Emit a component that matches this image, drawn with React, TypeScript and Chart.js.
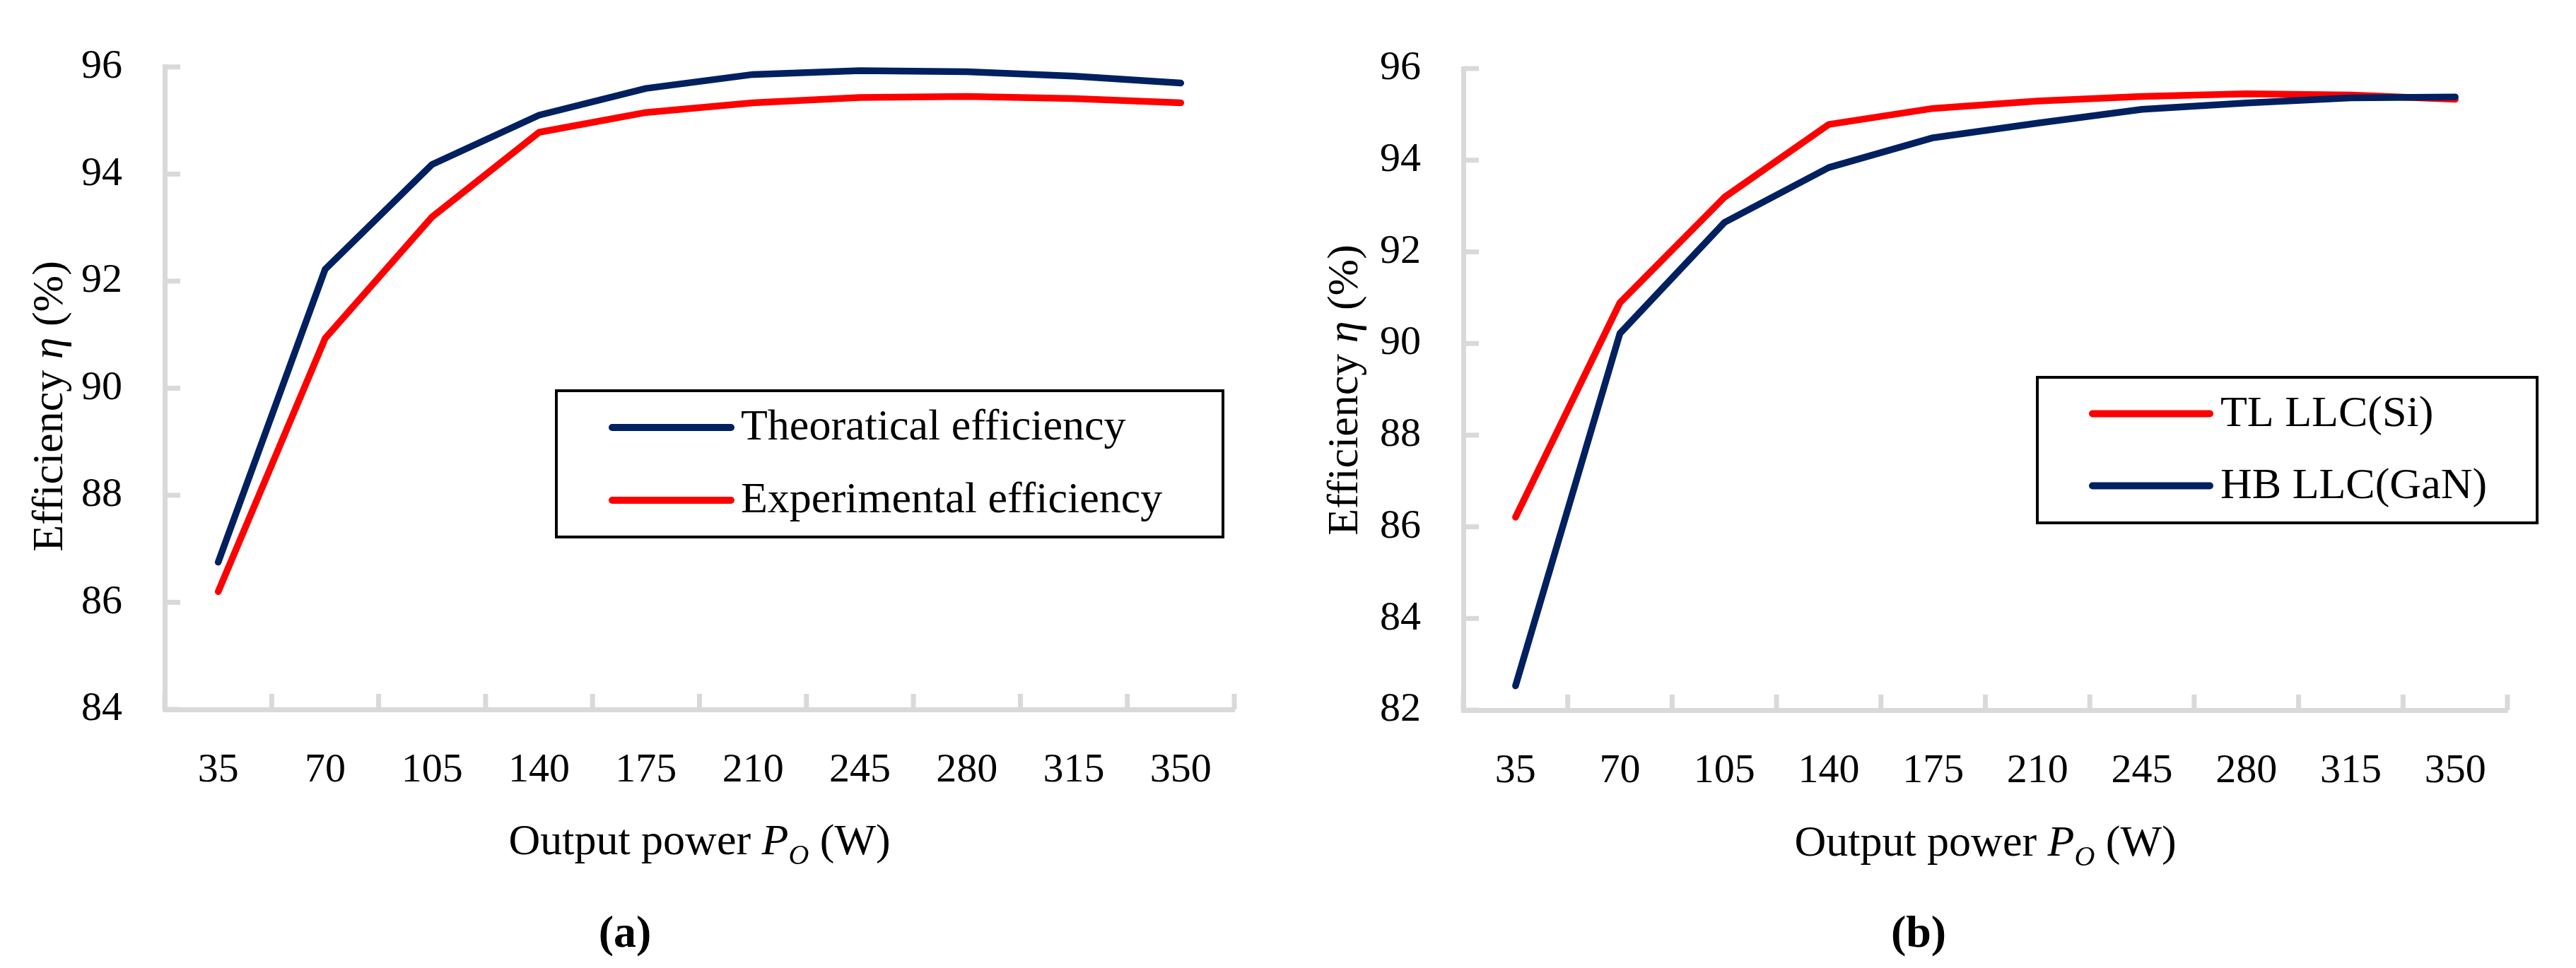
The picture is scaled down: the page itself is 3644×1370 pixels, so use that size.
import { useEffect, useRef } from 'react';
import { Chart, registerables } from 'chart.js';

Chart.register(...registerables);

// Output power (W) on the category axis
const powerLabels = ['35', '70', '105', '140', '175', '210', '245', '280', '315', '350'];

// (a) theoretical vs experimental efficiency (%)
const theoreticalEff = [86.75, 92.22, 94.18, 95.1, 95.6, 95.86, 95.93, 95.91, 95.83, 95.7];
const experimentalEff = [86.2, 90.93, 93.2, 94.78, 95.15, 95.33, 95.43, 95.45, 95.41, 95.33];

// (b) TL LLC (Si) vs HB LLC (GaN) efficiency (%)
const tlSiEff = [86.21, 90.89, 93.19, 94.78, 95.13, 95.29, 95.39, 95.45, 95.42, 95.33];
const hbGanEff = [82.53, 90.22, 92.64, 93.84, 94.49, 94.81, 95.11, 95.25, 95.36, 95.38];

const NAVY = '#002060';
const RED = '#FF0000';
const AXIS = '#D9D9D9';
const SERIF = '"Palatino Linotype", "Book Antiqua", Palatino, "Liberation Serif", serif';

type Run = { text: string; italic?: boolean; sub?: boolean; bold?: boolean };

function runFont(r: Run, size: number) {
  const s = r.sub ? Math.round(size * 0.65) : size;
  return `${r.italic ? 'italic ' : ''}${r.bold ? 'bold ' : ''}${s}px ${SERIF}`;
}

// draws mixed-style text centred on cx with its baseline on y
function drawRuns(ctx: CanvasRenderingContext2D, runs: Run[], size: number, cx: number, y: number) {
  const widths = runs.map((r) => {
    ctx.font = runFont(r, size);
    return ctx.measureText(r.text).width;
  });
  let x = cx - widths.reduce((a, b) => a + b, 0) / 2;
  ctx.textAlign = 'left';
  ctx.textBaseline = 'alphabetic';
  runs.forEach((r, i) => {
    ctx.font = runFont(r, size);
    ctx.fillText(r.text, x, r.sub ? y + size * 0.22 : y);
    x += widths[i];
  });
}

const xTitleRuns: Run[] = [
  { text: 'Output power ' },
  { text: 'P', italic: true },
  { text: 'O', italic: true, sub: true },
  { text: ' (W)' },
];
const yTitleRuns: Run[] = [{ text: 'Efficiency ' }, { text: 'η', italic: true }, { text: ' (%)' }];

const decorPlugin = {
  id: 'decor',
  beforeDatasetsDraw(chart: any) {
    const { ctx, chartArea, scales } = chart;
    const xs = scales.x;
    const ys = scales.y;
    ctx.save();
    ctx.strokeStyle = AXIS;
    ctx.lineWidth = 7;
    // tick marks point into the plot
    ys.ticks.forEach((t: any) => {
      const py = ys.getPixelForValue(t.value);
      ctx.beginPath();
      ctx.moveTo(chartArea.left, py);
      ctx.lineTo(chartArea.left + 22, py);
      ctx.stroke();
    });
    for (let i = 0; i <= xs.ticks.length; i++) {
      const px = xs.getPixelForValue(i - 0.5);
      ctx.beginPath();
      ctx.moveTo(px, chartArea.bottom);
      ctx.lineTo(px, chartArea.bottom - 22);
      ctx.stroke();
    }
    ctx.restore();
  },
  afterDraw(chart: any, _args: any, opts: any) {
    const { ctx, chartArea } = chart;
    ctx.save();
    ctx.fillStyle = '#000';

    // axis titles
    drawRuns(ctx, xTitleRuns, 62, (chartArea.left + chartArea.right) / 2, opts.xTitleY);
    ctx.save();
    ctx.translate(opts.yTitleX, opts.yTitleY);
    ctx.rotate(-Math.PI / 2);
    drawRuns(ctx, yTitleRuns, 62, 0, 0);
    ctx.restore();

    // panel caption
    drawRuns(ctx, [{ text: opts.caption, bold: true }], 64, opts.captionX, opts.captionY);

    // legend with a black frame
    const b = opts.legend;
    ctx.strokeStyle = '#000';
    ctx.lineWidth = 4;
    ctx.strokeRect(b.left, b.top, b.right - b.left, b.bottom - b.top);
    chart.data.datasets.forEach((ds: any, i: number) => {
      const ly = b.rows[i];
      ctx.strokeStyle = ds.borderColor;
      ctx.lineWidth = 10;
      ctx.lineCap = 'round';
      ctx.beginPath();
      ctx.moveTo(b.lineX1, ly);
      ctx.lineTo(b.lineX2, ly);
      ctx.stroke();
      ctx.font = `62px ${SERIF}`;
      ctx.textAlign = 'left';
      ctx.textBaseline = 'alphabetic';
      ctx.fillStyle = '#000';
      ctx.fillText(ds.label, b.textX, ly + 17);
    });
    ctx.restore();
  },
};

interface PanelProps {
  series: { label: string; data: number[]; color: string; order: number }[];
  yMin: number;
  area: { left: number; top: number; right: number; bottom: number };
  decor: any;
}

function Panel({ series, yMin, area, decor }: PanelProps) {
  const canvasRef = useRef<HTMLCanvasElement>(null);

  useEffect(() => {
    if (!canvasRef.current) return;
    const W = 1822;
    const H = 1370;
    const chart = new Chart(canvasRef.current, {
      type: 'line',
      data: {
        labels: powerLabels,
        datasets: series.map((s) => ({
          label: s.label,
          data: s.data,
          borderColor: s.color,
          backgroundColor: s.color,
          borderWidth: 9.5,
          borderCapStyle: 'round',
          borderJoinStyle: 'round',
          pointRadius: 0,
          tension: 0,
          order: s.order,
        })),
      },
      options: {
        responsive: false,
        animation: false,
        layout: { padding: { left: 0, top: area.top, right: W - area.right, bottom: 0 } },
        plugins: {
          legend: { display: false },
          tooltip: { enabled: false },
          decor,
        } as any,
        scales: {
          x: {
            type: 'category',
            offset: true,
            grid: { display: false, drawTicks: false },
            border: { display: true, color: AXIS, width: 7 },
            ticks: {
              color: '#000',
              font: { family: SERIF, size: 58 },
              padding: 52,
              maxRotation: 0,
              autoSkip: false,
            },
            afterFit: (scale: any) => {
              scale.height = H - area.bottom;
            },
          },
          y: {
            min: yMin,
            max: 96,
            grid: { display: false, drawTicks: false },
            border: { display: true, color: AXIS, width: 7 },
            ticks: {
              stepSize: 2,
              color: '#000',
              font: { family: SERIF, size: 58 },
              padding: 60,
            },
            afterFit: (scale: any) => {
              scale.width = area.left;
            },
          },
        },
      },
      plugins: [decorPlugin],
    } as any);
    return () => chart.destroy();
  }, []);

  return <canvas ref={canvasRef} width={1822} height={1370} style={{ width: 1822, height: 1370, display: 'block' }} />;
}

export default function App() {
  return (
    <div style={{ position: 'absolute', left: 0, top: 0, width: 3644, height: 1370, background: '#fff', display: 'flex' }}>
      <Panel
        series={[
          { label: 'Theoratical efficiency', data: theoreticalEff, color: NAVY, order: 1 },
          { label: 'Experimental efficiency', data: experimentalEff, color: RED, order: 2 },
        ]}
        yMin={84}
        area={{ left: 233, top: 94, right: 1746, bottom: 1004 }}
        decor={{
          xTitleY: 1209,
          yTitleX: 88,
          yTitleY: 575,
          caption: '(a)',
          captionX: 884,
          captionY: 1340,
          legend: { left: 787, top: 553, right: 1730, bottom: 760, rows: [605, 708], lineX1: 866, lineX2: 1034, textX: 1048 },
        }}
      />
      <Panel
        series={[
          { label: 'TL LLC(Si)', data: tlSiEff, color: RED, order: 2 },
          { label: 'HB LLC(GaN)', data: hbGanEff, color: NAVY, order: 1 },
        ]}
        yMin={82}
        area={{ left: 248, top: 97, right: 1725, bottom: 1005 }}
        decor={{
          xTitleY: 1211,
          yTitleX: 98,
          yTitleY: 552,
          caption: '(b)',
          captionX: 892,
          captionY: 1340,
          legend: { left: 1060, top: 534, right: 1767, bottom: 740, rows: [585.5, 687.5], lineX1: 1138, lineX2: 1304, textX: 1319 },
        }}
      />
    </div>
  );
}
